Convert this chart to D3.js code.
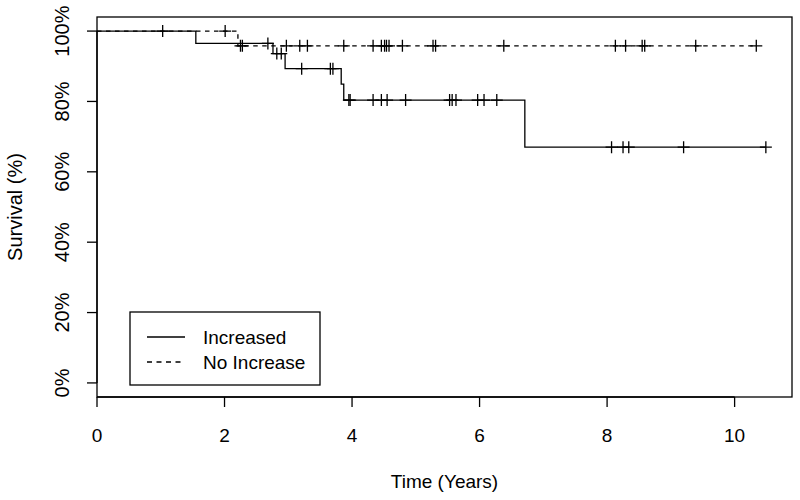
<!DOCTYPE html>
<meta charset="utf-8">

<!-- Load d3.js -->
<script src="https://d3js.org/d3.v7.min.js"></script>

<style>
  body { margin: 0; background: #fff; }
  text { font-family: "Liberation Sans", Arial, Helvetica, sans-serif; fill: #000; }
</style>

<div id="my_survplot"></div>

<script>

// canvas size and plot box
const width = 800,
    height = 500,
    boxLeft = 97, boxRight = 792, boxTop = 17, boxBottom = 397;

// Increased group: step times (years) and survival (%) after each step
const incTimes = [0, 1.55, 2.76, 2.95, 3.83, 3.87, 6.71];
const incSurv = [100, 96.5, 93.6, 89.3, 84.9, 80.4, 67.0];
const incEnd = 10.49;
const incCensor = [1.03, 2.68, 2.82, 2.89, 3.21, 3.66, 3.70, 3.95, 3.97, 4.33, 4.46, 4.55,
  4.84, 5.53, 5.57, 5.63, 5.97, 6.07, 6.27, 8.07, 8.25, 8.34, 9.20, 10.49];

// No Increase group
const noTimes = [0, 2.21];
const noSurv = [100, 95.8];
const noEnd = 10.34;
const noCensor = [2.01, 2.25, 2.28, 2.97, 3.18, 3.30, 3.87, 4.33, 4.46, 4.51, 4.54, 4.58,
  4.79, 5.27, 5.31, 6.38, 8.13, 8.29, 8.55, 8.59, 9.39, 10.34];

// axis ticks
const xTicks = [0, 2, 4, 6, 8, 10];
const yTicks = [0, 20, 40, 60, 80, 100];

const svg = d3.select("#my_survplot")
  .append("svg")
    .attr("width", width)
    .attr("height", height);

const x = d3.scaleLinear().domain([0, 10.9]).range([boxLeft, boxRight]);
const y = d3.scaleLinear().domain([-4, 104]).range([boxBottom, boxTop]);

// box
svg.append("rect")
  .attr("x", boxLeft).attr("y", boxTop)
  .attr("width", boxRight - boxLeft).attr("height", boxBottom - boxTop)
  .attr("fill", "none").attr("stroke", "#000").attr("stroke-width", 1.3);

// x axis
const xAxis = svg.append("g");
xAxis.append("line")
  .attr("x1", x(0)).attr("x2", x(10)).attr("y1", boxBottom).attr("y2", boxBottom)
  .attr("stroke", "#000").attr("stroke-width", 1.3);
xAxis.selectAll("line.tick")
  .data(xTicks)
  .join("line")
    .attr("class", "tick")
    .attr("x1", d => x(d)).attr("x2", d => x(d))
    .attr("y1", boxBottom).attr("y2", boxBottom + 10)
    .attr("stroke", "#000").attr("stroke-width", 1.3);
xAxis.selectAll("text")
  .data(xTicks)
  .join("text")
    .attr("x", d => x(d)).attr("y", 435)
    .attr("text-anchor", "middle").attr("dominant-baseline", "central")
    .attr("font-size", "19px")
    .text(d => d);

// y axis
const yAxis = svg.append("g");
yAxis.append("line")
  .attr("x1", boxLeft).attr("x2", boxLeft).attr("y1", y(0)).attr("y2", y(100))
  .attr("stroke", "#000").attr("stroke-width", 1.3);
yAxis.selectAll("line.tick")
  .data(yTicks)
  .join("line")
    .attr("class", "tick")
    .attr("x1", boxLeft - 10).attr("x2", boxLeft)
    .attr("y1", d => y(d)).attr("y2", d => y(d))
    .attr("stroke", "#000").attr("stroke-width", 1.3);
yAxis.selectAll("text")
  .data(yTicks)
  .join("text")
    .attr("transform", d => `translate(62, ${y(d)}) rotate(-90)`)
    .attr("text-anchor", "middle").attr("dominant-baseline", "central")
    .attr("font-size", "20px")
    .text(d => d + "%");

// axis titles
svg.append("text")
  .attr("x", (boxLeft + boxRight) / 2).attr("y", 481)
  .attr("text-anchor", "middle").attr("dominant-baseline", "central")
  .attr("font-size", "19px")
  .text("Time (Years)");
svg.append("text")
  .attr("transform", `translate(15, ${(boxTop + boxBottom) / 2}) rotate(-90)`)
  .attr("text-anchor", "middle").attr("dominant-baseline", "central")
  .attr("font-size", "20px")
  .text("Survival (%)");

// step curve path
function stepPath(times, surv, end) {
  const pts = times.map((t, i) => [t, surv[i]]);
  pts.push([end, surv[surv.length - 1]]);
  return d3.line().x(d => x(d[0])).y(d => y(d[1])).curve(d3.curveStepAfter)(pts);
}

// survival at a censoring time
function survAt(times, surv, t) {
  return surv[d3.bisectRight(times, t) - 1];
}

const groups = [
  {times: incTimes, surv: incSurv, end: incEnd, censor: incCensor, dash: null},
  {times: noTimes, surv: noSurv, end: noEnd, censor: noCensor, dash: "4.5,4.5"}
];

const ps = 6; // half size of the + marks
groups.forEach(g => {
  svg.append("path")
    .attr("d", stepPath(g.times, g.surv, g.end))
    .attr("fill", "none").attr("stroke", "#000").attr("stroke-width", 1.3)
    .attr("stroke-dasharray", g.dash);

  svg.append("g")
    .selectAll("path")
    .data(g.censor)
    .join("path")
      .attr("d", d => {
        const cx = x(d), cy = y(survAt(g.times, g.surv, d));
        return `M${cx - ps},${cy}H${cx + ps}M${cx},${cy - ps}V${cy + ps}`;
      })
      .attr("fill", "none").attr("stroke", "#000").attr("stroke-width", 1.3);
});

// legend
const legendNames = ["Increased", "No Increase"];
const legendDash = [null, "5,4.5"];
svg.append("rect")
  .attr("x", 130).attr("y", 312).attr("width", 190).attr("height", 73)
  .attr("fill", "#fff").attr("stroke", "#000").attr("stroke-width", 1.3);
svg.selectAll("line.legend")
  .data(legendNames)
  .join("line")
    .attr("class", "legend")
    .attr("x1", 147).attr("x2", 185)
    .attr("y1", (d, i) => 337 + i * 25).attr("y2", (d, i) => 337 + i * 25)
    .attr("stroke", "#000").attr("stroke-width", 1.3)
    .attr("stroke-dasharray", (d, i) => legendDash[i]);
svg.selectAll("text.legend")
  .data(legendNames)
  .join("text")
    .attr("class", "legend")
    .attr("x", 203).attr("y", (d, i) => 337 + i * 25)
    .attr("dominant-baseline", "central")
    .attr("font-size", "19px")
    .text(d => d);

</script>
